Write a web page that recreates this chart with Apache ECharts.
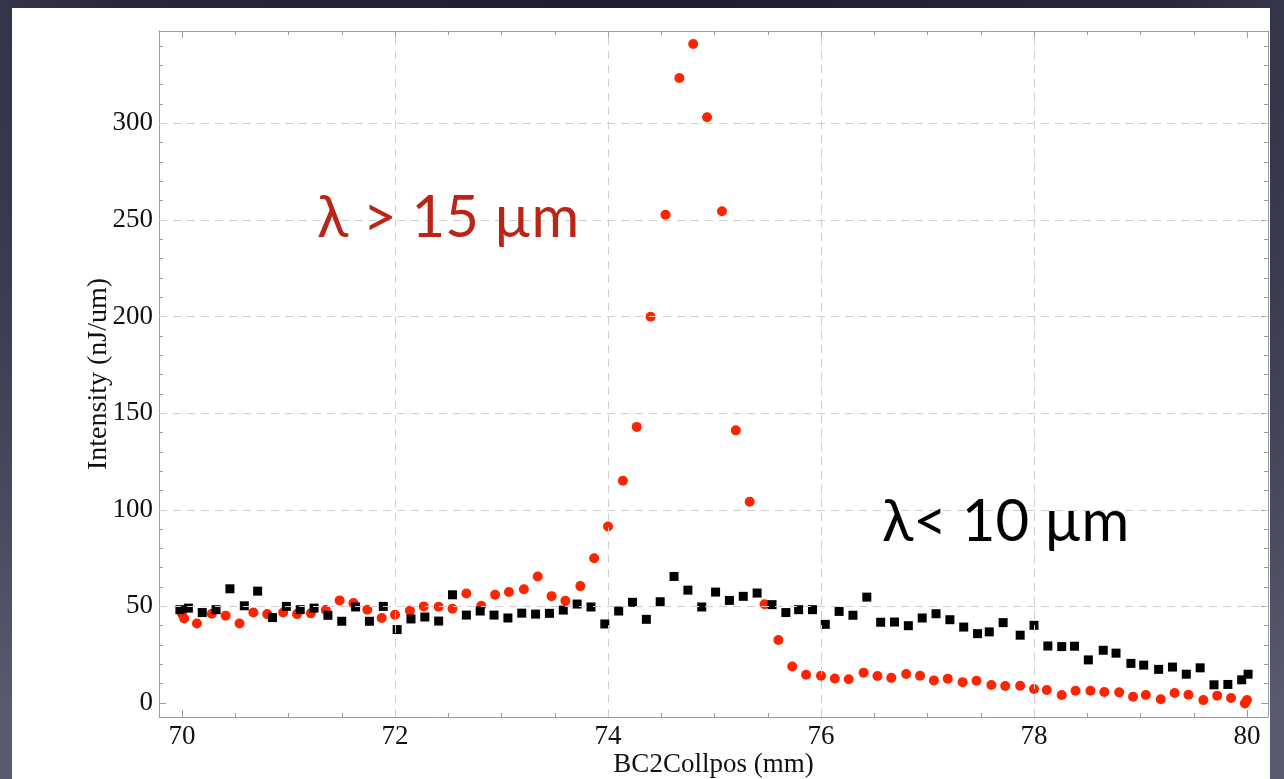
<!DOCTYPE html>
<html>
<head>
<meta charset="utf-8">
<title>BC2Collpos scan</title>
<script src="https://cdn.jsdelivr.net/npm/echarts@6/dist/echarts.min.js"></script>
<style>
  html, body { margin: 0; padding: 0; }
  body {
    width: 1284px; height: 779px; overflow: hidden; position: relative;
    background: radial-gradient(950px 950px at 50% 0%, #1d1d2f 0%, #28283c 55%, #5a5a6f 100%);
  }
  #panel {
    position: absolute; left: 12px; top: 8px; width: 1258px; height: 771px;
    background: #ffffff;
  }
  #chart { position: absolute; left: 0; top: 0; width: 1258px; height: 771px; }
</style>
</head>
<body>
<div id="panel"><div id="chart"></div></div>
<script>
// Long-wavelength signal (lambda > 15 um): collimator position (mm) and intensity (nJ/um)
const longX = [70.00, 70.02, 70.14, 70.28, 70.41, 70.54, 70.67, 70.80, 70.95, 71.08,
  71.21, 71.35, 71.48, 71.61, 71.74, 71.875, 72.00, 72.14, 72.27, 72.41,
  72.54, 72.67, 72.81, 72.94, 73.07, 73.21, 73.34, 73.47, 73.60, 73.74,
  73.87, 74.00, 74.14, 74.27, 74.40, 74.54, 74.67, 74.80, 74.93, 75.07,
  75.20, 75.33, 75.47, 75.60, 75.73, 75.86, 76.00, 76.13, 76.26, 76.40,
  76.53, 76.66, 76.80, 76.93, 77.06, 77.19, 77.33, 77.46, 77.60, 77.73,
  77.87, 78.00, 78.12, 78.26, 78.39, 78.53, 78.66, 78.80, 78.93, 79.05,
  79.19, 79.32, 79.45, 79.59, 79.72, 79.85, 79.98, 80.00];
const longY = [46.2, 43.7, 41.1, 46.2, 45.2, 41.1, 46.8, 46.0, 46.8, 46.0,
  46.4, 48.1, 53.1, 51.7, 48.3, 44.0, 45.7, 47.8, 50.0, 49.8,
  48.8, 56.7, 50.3, 56.0, 57.4, 58.9, 65.5, 55.3, 52.9, 60.5,
  74.9, 91.3, 115.0, 142.9, 199.9, 252.7, 323.5, 341.1, 303.2, 254.5,
  141.1, 104.2, 51.1, 32.6, 18.9, 14.6, 14.1, 12.7, 12.3, 15.7,
  14.0, 13.0, 15.0, 14.1, 11.7, 12.6, 10.8, 11.5, 9.3, 8.8,
  8.9, 7.2, 6.7, 4.1, 6.3, 6.3, 5.7, 5.5, 3.2, 4.1,
  1.9, 5.2, 4.3, 1.5, 3.8, 2.6, -0.2, 1.5];

// Short-wavelength signal (lambda < 10 um)
const shortX = [69.98, 70.06, 70.19, 70.32, 70.45, 70.585, 70.71, 70.85, 70.98, 71.11,
  71.24, 71.37, 71.50, 71.63, 71.76, 71.89, 72.02, 72.15, 72.28, 72.41,
  72.54, 72.67, 72.80, 72.93, 73.06, 73.19, 73.32, 73.45, 73.58, 73.71,
  73.84, 73.97, 74.10, 74.23, 74.36, 74.49, 74.62, 74.75, 74.88, 75.01,
  75.14, 75.27, 75.40, 75.54, 75.67, 75.79, 75.92, 76.04, 76.17, 76.30,
  76.43, 76.56, 76.69, 76.82, 76.95, 77.08, 77.21, 77.34, 77.47, 77.58,
  77.71, 77.87, 78.00, 78.13, 78.26, 78.38, 78.51, 78.65, 78.77, 78.91,
  79.03, 79.17, 79.30, 79.43, 79.56, 79.69, 79.82, 79.95, 80.01];
const shortY = [48.3, 49.1, 46.8, 48.3, 59.1, 50.3, 57.9, 44.2, 50.0, 48.3,
  49.1, 45.4, 42.3, 49.7, 42.3, 50.0, 38.0, 43.5, 44.5, 42.4,
  56.0, 45.5, 47.6, 45.5, 44.0, 46.5, 46.0, 46.4, 48.1, 51.2,
  49.7, 40.9, 47.6, 52.1, 43.3, 52.4, 65.5, 58.4, 49.7, 57.4,
  53.1, 55.2, 56.9, 50.9, 46.8, 48.3, 48.3, 40.7, 47.4, 45.4,
  54.8, 41.8, 41.9, 40.0, 44.0, 46.2, 43.1, 39.3, 35.9, 36.8,
  41.6, 35.1, 40.2, 29.5, 29.2, 29.4, 22.3, 27.3, 25.8, 20.5,
  19.6, 17.4, 18.6, 14.9, 18.2, 9.4, 9.6, 12.0, 14.9];

// Axis ranges, tick positions and grid lines
const xRange = [69.784, 80.197];
const yRange = [-7.25, 347.8];
const xMajor = [70, 72, 74, 76, 78, 80];
const xMinor = [70.5, 71, 71.5, 72.5, 73, 73.5, 74.5, 75, 75.5, 76.5, 77, 77.5, 78.5, 79, 79.5];
const yMajor = [0, 50, 100, 150, 200, 250, 300];
const yMinor = [10, 20, 30, 40, 60, 70, 80, 90, 110, 120, 130, 140, 160, 170, 180, 190,
  210, 220, 230, 240, 260, 270, 280, 290, 310, 320, 330, 340];
const xGridAt = [72, 74, 76, 78];
const yGridAt = [50, 100, 150, 200, 250, 300];

const zip = (xs, ys) => xs.map((x, i) => [x, ys[i]]);

const frameColor = '#9c9c9c';
const serif = '"Liberation Serif", "DejaVu Serif", serif';
const labelFont = { color: '#111', fontFamily: serif, fontSize: 27 };

// One frame side: axis line + inward major ticks (optionally labelled)
function majorAxis(position, range, ticks, label, extra) {
  return Object.assign({
    type: 'value', position, min: range[0], max: range[1],
    axisLine: { show: true, onZero: false, lineStyle: { color: frameColor, width: 1 } },
    axisTick: { show: true, inside: true, length: 7, customValues: ticks, lineStyle: { color: frameColor } },
    axisLabel: label
      ? Object.assign({ show: true, customValues: ticks, formatter: v => String(Math.round(v)) }, labelFont, label)
      : { show: false },
    splitLine: { show: false }
  }, extra || {});
}

// Overlay axis on the same side carrying only the shorter minor ticks
function minorAxis(position, range, ticks) {
  return {
    type: 'value', position, min: range[0], max: range[1],
    axisLine: { show: false, onZero: false },
    axisTick: { show: true, inside: true, length: 4, customValues: ticks, lineStyle: { color: frameColor } },
    axisLabel: { show: false },
    splitLine: { show: false }
  };
}

const chart = echarts.init(document.getElementById('chart'), null, { renderer: 'canvas' });

chart.setOption({
  animation: false,
  backgroundColor: 'transparent',
  grid: { left: 147, right: 2, top: 23, bottom: 62, containLabel: false, outerBoundsMode: 'none' },
  xAxis: [
    majorAxis('bottom', xRange, xMajor, { margin: 6 }, {
      name: 'BC2Collpos (mm)', nameLocation: 'middle', nameGap: 34, nameMoveOverlap: false,
      nameTextStyle: { color: '#111', fontFamily: serif, fontSize: 27 }
    }),
    majorAxis('top', xRange, xMajor, null),
    minorAxis('bottom', xRange, xMinor),
    minorAxis('top', xRange, xMinor)
  ],
  yAxis: [
    majorAxis('left', yRange, yMajor, { margin: 6 }, {
      name: 'Intensity (nJ/um)', nameLocation: 'middle', nameGap: 46, nameMoveOverlap: false,
      nameTextStyle: { color: '#111', fontFamily: serif, fontSize: 28 }
    }),
    majorAxis('right', yRange, yMajor, null),
    minorAxis('left', yRange, yMinor),
    minorAxis('right', yRange, yMinor)
  ],
  series: [
    {
      // dashed grid lines at the inner major ticks
      type: 'scatter', data: [], z: 1, silent: true,
      markLine: {
        silent: true, symbol: 'none', animation: false,
        label: { show: false },
        lineStyle: { color: '#cfcfcf', width: 1, type: [8, 6] },
        data: xGridAt.map(v => ({ xAxis: v })).concat(yGridAt.map(v => ({ yAxis: v })))
      }
    },
    {
      name: 'λ > 15 µm', type: 'scatter', z: 3,
      symbol: 'circle', symbolSize: 10,
      itemStyle: { color: '#ff2400', opacity: 1 },
      data: zip(longX, longY)
    },
    {
      name: 'λ< 10 µm', type: 'scatter', z: 4,
      symbol: 'rect', symbolSize: 9,
      itemStyle: { color: '#000000', opacity: 1 },
      data: zip(shortX, shortY)
    }
  ],
  graphic: [
    {
      type: 'text', left: 305, top: 181, z: 10,
      style: { text: 'λ > 15 µm', fill: '#bb2518', font: '400 58px Lato, "Open Sans", sans-serif' }
    },
    {
      type: 'text', left: 870, top: 485, z: 10,
      style: { text: 'λ< 10 µm', fill: '#000000', font: '400 58px Lato, "Open Sans", sans-serif' }
    }
  ]
});
</script>
</body>
</html>
